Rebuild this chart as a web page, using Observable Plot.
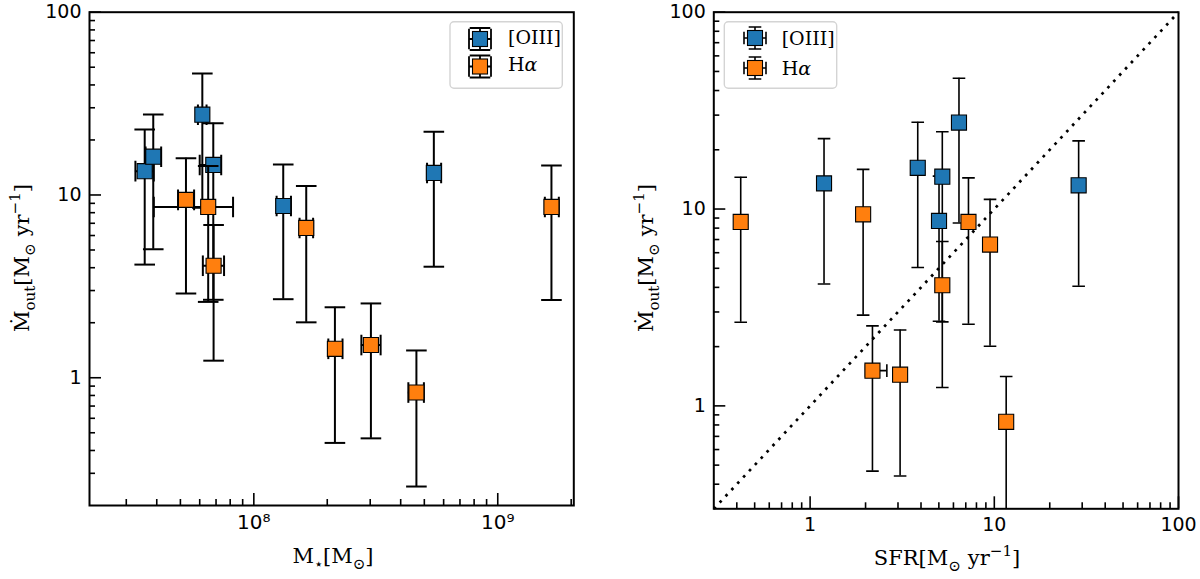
<!DOCTYPE html>
<html>
<head>
<meta charset="utf-8">
<script src="https://cdn.jsdelivr.net/npm/d3@7"></script>
<script src="https://cdn.jsdelivr.net/npm/@observablehq/plot@0.6"></script>
<style>
  body { margin: 0; background: #fff; }
  #wrap { display: flex; width: 1200px; height: 579px; }
  #wrap > div { width: 600px; height: 579px; }
  svg { display: block; }
</style>
</head>
<body>
<div id="wrap"><div id="left"></div><div id="right"></div></div>
<script>
// [OIII] outflows
const oiiiMdot   = [13.5, 16.2, 27.5, 14.6, 8.7, 13.2];
const oiiiLo     = [4.16, 5.05, 8.5, 2.67, 2.69, 4.05];
const oiiiHi     = [22.8, 27.6, 46.2, 24.7, 14.7, 22.2];
const oiiiMass   = [3.57e7, 3.87e7, 6.15e7, 6.82e7, 1.32e8, 5.47e8];
const oiiiMassLo = [3.27e7, 3.6e7, 5.9e7, 6.0e7, 1.24e8, 5.13e8];
const oiiiMassHi = [3.89e7, 4.17e7, 6.4e7, 7.35e7, 1.42e8, 5.86e8];
const oiiiSfr    = [1.19, 3.84, 6.43, 5.22, 5.01, 28.7];
const oiiiSfrLo  = [1.15, 3.74, 6.25, 5.08, 4.88, 27.9];
const oiiiSfrHi  = [1.23, 3.95, 6.6, 5.36, 5.14, 29.5];

// Halpha outflows
const haMdot   = [9.4, 8.6, 4.1, 6.6, 1.44, 1.51, 0.83, 8.6];
const haLo     = [2.89, 2.6, 1.24, 2.01, 0.44, 0.466, 0.254, 2.66];
const haHi     = [15.9, 14.4, 6.84, 11.2, 2.43, 2.55, 1.41, 14.5];
const haMass   = [5.27e7, 6.5e7, 6.84e7, 1.64e8, 2.15e8, 3.02e8, 4.64e8, 1.66e9];
const haMassLo = [4.89e7, 3.89e7, 6.18e7, 1.54e8, 2.02e8, 2.76e8, 4.3e8, 1.56e9];
const haMassHi = [5.69e7, 8.22e7, 7.55e7, 1.75e8, 2.31e8, 3.31e8, 4.98e8, 1.78e9];
const haSfr    = [1.94, 7.24, 5.22, 9.48, 3.08, 2.18, 11.6, 0.42];
const haSfrLo  = [1.89, 7.05, 5.08, 9.22, 3.0, 2.0, 11.3, 0.41];
const haSfrHi  = [1.99, 7.43, 5.36, 9.74, 3.16, 2.61, 11.9, 0.43];

const massTicks = [1e8, 1e9];
const massMinor = [3e7, 4e7, 5e7, 6e7, 7e7, 8e7, 9e7, 2e8, 3e8, 4e8, 5e8, 6e8, 7e8, 8e8, 9e8, 2e9];
const logTicks = [1, 10, 100];
const leftMinorY = [0.3, 0.4, 0.5, 0.6, 0.7, 0.8, 0.9, 2, 3, 4, 5, 6, 7, 8, 9, 20, 30, 40, 50, 60, 70, 80, 90];
const rightMinor = [0.4, 0.5, 0.6, 0.7, 0.8, 0.9, 2, 3, 4, 5, 6, 7, 8, 9, 20, 30, 40, 50, 60, 70, 80, 90];
const unityLine = [0.3, 100];

const blue = "#1f77b4", orange = "#ff7f0e";
const serif = "'DejaVu Serif', serif";
const sans = "'DejaVu Sans', sans-serif";

const rows = (mdot, lo, hi, mass, mLo, mHi, sfr, sLo, sHi) => mdot.map((v, i) => ({
  mdot: v, lo: lo[i], hi: hi[i],
  mass: mass[i], massLo: mLo[i], massHi: mHi[i],
  sfr: sfr[i], sfrLo: sLo[i], sfrHi: sHi[i]
}));
const oiii = rows(oiiiMdot, oiiiLo, oiiiHi, oiiiMass, oiiiMassLo, oiiiMassHi, oiiiSfr, oiiiSfrLo, oiiiSfrHi);
const ha = rows(haMdot, haLo, haHi, haMass, haMassLo, haMassHi, haSfr, haSfrLo, haSfrHi);

// cap symbols for error bars (size = pi r^2)
const hcap = {draw(ctx, size) { const r = Math.sqrt(size / Math.PI); ctx.moveTo(-r, 0); ctx.lineTo(r, 0); }};
const vcap = {draw(ctx, size) { const r = Math.sqrt(size / Math.PI); ctx.moveTo(0, -r); ctx.lineTo(0, r); }};

const errorMarks = (data, x, xlo, xhi, fill, lw, cap) => {
  const s = {stroke: "black", strokeWidth: lw, clip: true};
  return [
    Plot.ruleX(data, {x, y1: "lo", y2: "hi", ...s}),
    Plot.ruleY(data, {y: "mdot", x1: xlo, x2: xhi, ...s}),
    Plot.dot(data, {x, y: "lo", symbol: hcap, r: cap, fill: "none", ...s}),
    Plot.dot(data, {x, y: "hi", symbol: hcap, r: cap, fill: "none", ...s}),
    Plot.dot(data, {x: xlo, y: "mdot", symbol: vcap, r: cap, fill: "none", ...s}),
    Plot.dot(data, {x: xhi, y: "mdot", symbol: vcap, r: cap, fill: "none", ...s}),
    Plot.dot(data, {x, y: "mdot", symbol: "square", r: 8.5, fill, stroke: "black", strokeWidth: 1.1})
  ];
};

const inTicks = (xMajor, xMinor, yMajor, yMinor, innerW, innerH) => {
  const s = {stroke: "black", strokeWidth: 1.6};
  return [
    Plot.tickX(xMajor, {x: d => d, insetTop: innerH - 12, ...s}),
    Plot.tickX(xMinor, {x: d => d, insetTop: innerH - 6, ...s}),
    Plot.tickY(yMajor, {y: d => d, insetRight: innerW - 12, ...s}),
    Plot.tickY(yMinor, {y: d => d, insetRight: innerW - 6, ...s})
  ];
};

// text with sub/superscripts as tspans
const mathText = (g, parts, size) => {
  const t = g.append("text").attr("font-family", serif).attr("font-size", size)
    .attr("fill", "black").attr("text-anchor", "start");
  let shift = 0;
  for (const [s, kind, italic] of parts) {
    const target = kind === "sub" ? 0.28 * size : kind === "sup" ? -0.42 * size : 0;
    const ts = t.append("tspan").text(s).attr("dy", target - shift);
    if (kind) ts.attr("font-size", size * 0.72);
    if (italic) ts.attr("font-style", "italic");
    shift = target;
  }
  return t;
};

const mdotLabel = [["Ṁ"], ["out", "sub"], ["[M"], ["⊙", "sub"], ["\u2004yr"], ["−1", "sup"], ["]"]];

const drawLegend = (svg, box, mx, tx, ys, bases, cap, lw) => {
  const g = d3.select(svg).append("g");
  g.append("rect").attr("x", box[0]).attr("y", box[1]).attr("width", box[2]).attr("height", box[3])
    .attr("rx", 4).attr("fill", "white").attr("fill-opacity", 0.8)
    .attr("stroke", "#d4d4d4").attr("stroke-width", 1.4);
  [[blue, "[OIII]"], [orange, "Hα"]].forEach(([c, name], i) => {
    const y = ys[i], e = 11;
    const p = d3.path();
    p.moveTo(mx, y - e); p.lineTo(mx, y + e);
    p.moveTo(mx - e, y); p.lineTo(mx + e, y);
    p.moveTo(mx - cap, y - e); p.lineTo(mx + cap, y - e);
    p.moveTo(mx - cap, y + e); p.lineTo(mx + cap, y + e);
    p.moveTo(mx - e, y - cap); p.lineTo(mx - e, y + cap);
    p.moveTo(mx + e, y - cap); p.lineTo(mx + e, y + cap);
    g.append("path").attr("d", p.toString()).attr("stroke", "black").attr("stroke-width", lw).attr("fill", "none");
    g.append("rect").attr("x", mx - 7.5).attr("y", y - 7.5).attr("width", 15).attr("height", 15)
      .attr("fill", c).attr("stroke", "black").attr("stroke-width", 1.1);
    const parts = name === "Hα" ? [["H"], ["α", null, true]] : [[name]];
    mathText(g, parts, 19).attr("x", tx).attr("y", bases[i]);
  });
};

const baseStyle = {fontFamily: sans, fontSize: "19px", color: "black", background: "white", overflow: "visible"};
const axisFont = {fontSize: 19, fontFamily: sans};

// ---- left: outflow rate vs stellar mass
const L = {w: 600, h: 579, ml: 89, mr: 26.7, mt: 11.7, mb: 74};
const leftPlot = Plot.plot({
  width: L.w, height: L.h,
  marginLeft: L.ml, marginRight: L.mr, marginTop: L.mt, marginBottom: L.mb,
  style: baseStyle,
  x: {type: "log", domain: [2.12e7, 2.05e9]},
  y: {type: "log", domain: [0.2, 100]},
  marks: [
    Plot.axisX({ticks: massTicks, tickSize: 0, tickPadding: 9, tickFormat: d => d === 1e8 ? "10⁸" : "10⁹", label: null, ...axisFont, fontSize: 20}),
    Plot.axisY({ticks: logTicks, tickSize: 0, tickPadding: 8, tickFormat: d => String(d), label: null, ...axisFont}),
    ...inTicks(massTicks, massMinor, logTicks, leftMinorY, L.w - L.ml - L.mr, L.h - L.mt - L.mb),
    ...errorMarks(oiii, "mass", "massLo", "massHi", blue, 2, 10.3),
    ...errorMarks(ha, "mass", "massLo", "massHi", orange, 2, 10.3),
    Plot.frame({stroke: "black", strokeWidth: 2})
  ]
});
document.getElementById("left").append(leftPlot);
{
  const g = d3.select(leftPlot).append("g");
  mathText(g, [["M"], ["⋆", "sub"], ["[M"], ["⊙", "sub"], ["]"]], 21)
    .attr("x", 333).attr("y", 563).attr("text-anchor", "middle");
  mathText(g, mdotLabel, 21)
    .attr("text-anchor", "middle").attr("transform", "translate(29,258) rotate(-90)");
  drawLegend(leftPlot, [450, 21.7, 112.3, 66.6], 480, 508, [39, 66.5], [44, 71], 10.3, 1.8);
}

// ---- right: outflow rate vs SFR
const R = {w: 600, h: 579, ml: 113.3, mr: 22, mt: 11.7, mb: 70.7};
const rightPlot = Plot.plot({
  width: R.w, height: R.h,
  marginLeft: R.ml, marginRight: R.mr, marginTop: R.mt, marginBottom: R.mb,
  style: baseStyle,
  x: {type: "log", domain: [0.3, 100]},
  y: {type: "log", domain: [0.3, 100]},
  marks: [
    Plot.axisX({ticks: logTicks, tickSize: 0, tickPadding: 9, tickFormat: d => String(d), label: null, ...axisFont}),
    Plot.axisY({ticks: logTicks, tickSize: 0, tickPadding: 8, tickFormat: d => String(d), label: null, ...axisFont}),
    ...inTicks(logTicks, rightMinor, logTicks, rightMinor, R.w - R.ml - R.mr, R.h - R.mt - R.mb),
    Plot.line(unityLine, {x: d => d, y: d => d, stroke: "black", strokeWidth: 2.7, strokeDasharray: "2.7,5.9", strokeLinecap: "butt"}),
    ...errorMarks(oiii, "sfr", "sfrLo", "sfrHi", blue, 1.6, 6.3),
    ...errorMarks(ha, "sfr", "sfrLo", "sfrHi", orange, 1.6, 6.3),
    Plot.frame({stroke: "black", strokeWidth: 2})
  ]
});
document.getElementById("right").append(rightPlot);
{
  const g = d3.select(rightPlot).append("g");
  mathText(g, [["SFR[M"], ["⊙", "sub"], ["\u2004yr"], ["−1", "sup"], ["]"]], 21)
    .attr("x", 347).attr("y", 565).attr("text-anchor", "middle");
  mathText(g, mdotLabel, 21)
    .attr("text-anchor", "middle").attr("transform", "translate(53,258) rotate(-90)");
  drawLegend(rightPlot, [124.3, 21.7, 112.4, 66.6], 155, 181.7, [38, 68], [45, 75], 6.3, 1.6);
}
</script>
</body>
</html>
